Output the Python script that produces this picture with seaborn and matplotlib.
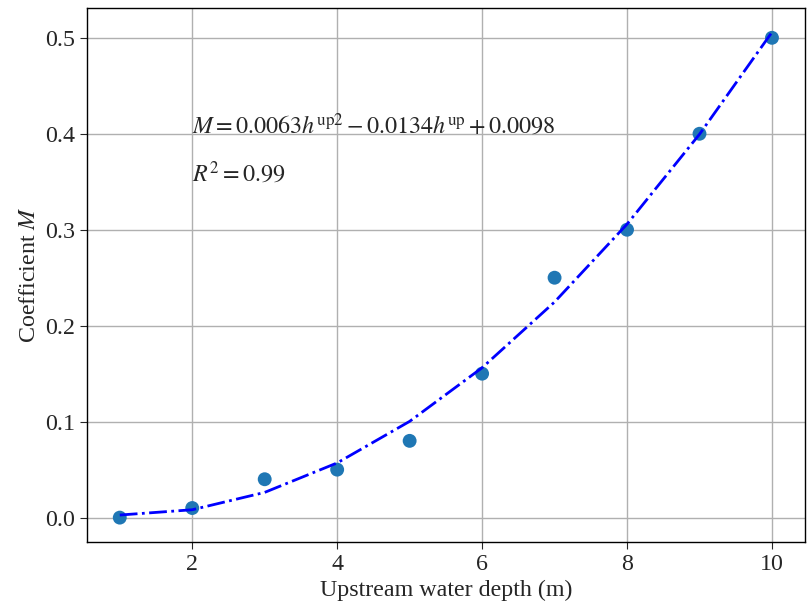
import numpy as np
import pandas as pd
import matplotlib
matplotlib.use("Agg")
import matplotlib.pyplot as plt
import seaborn as sns

depth = [1, 2, 3, 4, 5, 6, 7, 8, 9, 10]
coef_M = [0.0, 0.01, 0.04, 0.05, 0.08, 0.15, 0.25, 0.30, 0.40, 0.50]
fit_coeffs = [0.0063, -0.0134, 0.0098]
x_ticks = [2, 4, 6, 8, 10]
y_ticks = [0.0, 0.1, 0.2, 0.3, 0.4, 0.5]

sns.set_style("ticks")
plt.rcParams['font.family'] = ['Liberation Serif', 'DejaVu Serif']
plt.rcParams['mathtext.fontset'] = 'stix'

df = pd.DataFrame({"h": depth, "M": coef_M})
df["fit"] = np.polyval(fit_coeffs, df["h"])

FS = 17.3
fig, ax = plt.subplots(figsize=(8.07, 6.13), dpi=100)
fig.subplots_adjust(left=0.108, right=0.997, top=0.987, bottom=0.116)

sns.scatterplot(data=df, x="h", y="M", s=100, color="#1f77b4", edgecolor="none", ax=ax, zorder=3)
sns.lineplot(data=df, x="h", y="fit", color="blue", linestyle="-.", linewidth=2, ax=ax, zorder=4)

ax.text(2, 0.4, r'$M=0.0063h^{\mathrm{up2}}-0.0134h^{\mathrm{up}}+0.0098$', fontsize=FS)
ax.text(2, 0.35, r'$R^2=0.99$', fontsize=FS)

ax.set_xticks(x_ticks)
ax.set_yticks(y_ticks)
ax.tick_params(labelsize=FS, direction='out', length=5)
ax.set_xlabel("Upstream water depth (m)", fontsize=FS)
ax.set_ylabel(r"Coefficient $M$", fontsize=FS)
ax.grid(True, color="#b0b0b0", linewidth=1)
for sp in ax.spines.values():
    sp.set_visible(True)
    sp.set_color("black")
    sp.set_linewidth(1)

fig.savefig("out.png", dpi=100)
